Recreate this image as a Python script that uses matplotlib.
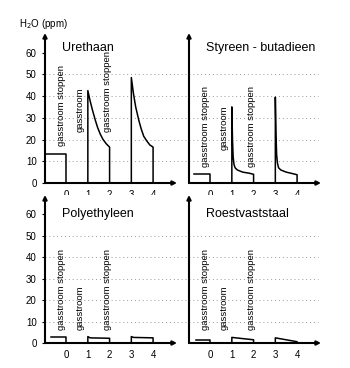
import matplotlib
matplotlib.use("Agg")
import matplotlib.pyplot as plt

plt.rcParams['font.family'] = ['Liberation Sans', 'DejaVu Sans']

# ---- data ----
x_ticks = [0, 1, 2, 3, 4]
y_ticks = [0, 10, 20, 30, 40, 50, 60]
grid_levels = [10, 20, 30, 40, 50]
panel_titles = ["Urethaan", "Styreen - butadieen", "Polyethyleen", "Roestvaststaal"]
label_texts = ["gasstroom stoppen", "gasstroom", "gasstroom stoppen"]
label_x = [-0.2, 0.65, 1.9]

# Urethaan
ure_x0 = [-0.97, 0, 0]
ure_y0 = [13.5, 13.5, 0]
ure_x1 = [1, 1, 1.1, 1.2, 1.34, 1.45, 1.57, 1.7, 1.85, 2.0, 2, 2]
ure_y1 = [0, 42.5, 38, 34, 29, 25.5, 22.5, 20, 18, 16.5, 16.5, 0]
ure_x2 = [3, 3, 3.1, 3.2, 3.34, 3.45, 3.57, 3.7, 3.85, 4.0, 4, 4]
ure_y2 = [0, 48.5, 41, 35, 29, 25, 21.5, 19.5, 17.5, 16.5, 16.5, 0]
ure_labels_y = [17, 23.5, 23.5]

# Styreen - butadieen
sty_x0 = [-0.74, 0, 0]
sty_y0 = [4.1, 4.1, 0]
sty_x1 = [1, 1, 1.03, 1.06, 1.1, 1.15, 1.25, 1.5, 1.8, 2.0, 2, 2]
sty_y1 = [0, 35, 20, 12, 8.5, 7, 6, 5, 4.5, 4, 4, 0]
sty_x2 = [3, 3, 3.03, 3.06, 3.1, 3.15, 3.25, 3.5, 3.8, 4.0, 4, 4]
sty_y2 = [0, 39.5, 22, 13, 9, 7, 6, 5, 4.3, 3.8, 3.8, 0]
sty_labels_y = [7.5, 15, 7.5]

# Polyethyleen
pol_x0 = [-0.7, 0, 0]
pol_y0 = [2.6, 2.6, 0]
pol_x1 = [1, 1, 1.1, 2.0, 2, 2]
pol_y1 = [0, 3.0, 2.4, 2.2, 2.2, 0]
pol_x2 = [3, 3, 3.1, 4.0, 4, 4]
pol_y2 = [0, 3.0, 2.6, 2.4, 2.4, 0]
pol_labels_y = [6, 6, 6]

# Roestvaststaal
roe_x0 = [-0.65, 0, 0]
roe_y0 = [1.6, 1.6, 0]
roe_x1 = [1, 1, 2.0, 2, 2]
roe_y1 = [0, 2.6, 1.5, 1.5, 0]
roe_x2 = [3, 3, 4.0, 4, 4]
roe_y2 = [0, 2.4, 0.6, 0.6, 0]
roe_labels_y = [6, 6, 6]

panels = [
    (panel_titles[0], [(ure_x0, ure_y0), (ure_x1, ure_y1), (ure_x2, ure_y2)], ure_labels_y, 62),
    (panel_titles[1], [(sty_x0, sty_y0), (sty_x1, sty_y1), (sty_x2, sty_y2)], sty_labels_y, 62),
    (panel_titles[2], [(pol_x0, pol_y0), (pol_x1, pol_y1), (pol_x2, pol_y2)], pol_labels_y, 60),
    (panel_titles[3], [(roe_x0, roe_y0), (roe_x1, roe_y1), (roe_x2, roe_y2)], roe_labels_y, 60),
]

W, H = 350, 368
fig = plt.figure(figsize=(W / 100, H / 100), dpi=100)

# axes rectangles in pixels: left, right, bottom(y px of zero), top
rects = [(45, 177, 183, 33), (189, 321, 183, 33), (45, 177, 343, 195), (189, 321, 343, 195)]
grid_right = [5.67, 4.98, 5.67, 4.98]

for i, (title, segs, lab_y, title_y) in enumerate(panels):
    l, r, b, t = rects[i]
    ax = fig.add_axes([l / W, (H - b) / H, (r - l) / W, (b - t) / H])
    ax.set_xlim(-0.97, 5.1)
    ax.set_ylim(0, 69)
    for s in ax.spines.values():
        s.set_visible(False)
    ax.set_xticks(x_ticks)
    ax.set_xticklabels([str(v) for v in x_ticks], fontsize=7)
    ax.tick_params(axis='x', length=0, pad=5)
    ax.set_yticks(y_ticks)
    if i % 2 == 0:
        ax.set_yticklabels([str(v) for v in y_ticks], fontsize=7)
        ax.tick_params(axis='y', length=2, width=0.8, pad=4)
    else:
        ax.set_yticklabels([])
        ax.tick_params(axis='y', length=0)
    # dotted gridlines
    ax.hlines(grid_levels, -0.97, grid_right[i], colors='#999999',
              linestyles=(0, (1, 3)), linewidth=0.7, clip_on=False, zorder=1)
    # axes arrows
    ax.annotate('', xy=(1, 0), xytext=(0, 0), xycoords='axes fraction',
                arrowprops=dict(arrowstyle='-|>', lw=1.5, color='black',
                                mutation_scale=6, shrinkA=0, shrinkB=0))
    ax.annotate('', xy=(0, 1), xytext=(0, 0), xycoords='axes fraction',
                arrowprops=dict(arrowstyle='-|>', lw=1.5, color='black',
                                mutation_scale=6, shrinkA=0, shrinkB=0))
    for xs, ys in segs:
        ax.plot(xs, ys, color='black', lw=1.1, clip_on=False, zorder=3)
    for tx, ty, txt in zip(label_x, lab_y, label_texts):
        ax.text(tx, ty, txt, rotation=90, ha='center', va='bottom', fontsize=6.8)
    ax.text(-0.2, title_y, title, ha='left', va='center', fontsize=9)

fig.text(43 / W, (H - 24) / H, 'H$_2$O (ppm)', ha='center', va='center', fontsize=7)

fig.savefig('out.png', dpi=100)
